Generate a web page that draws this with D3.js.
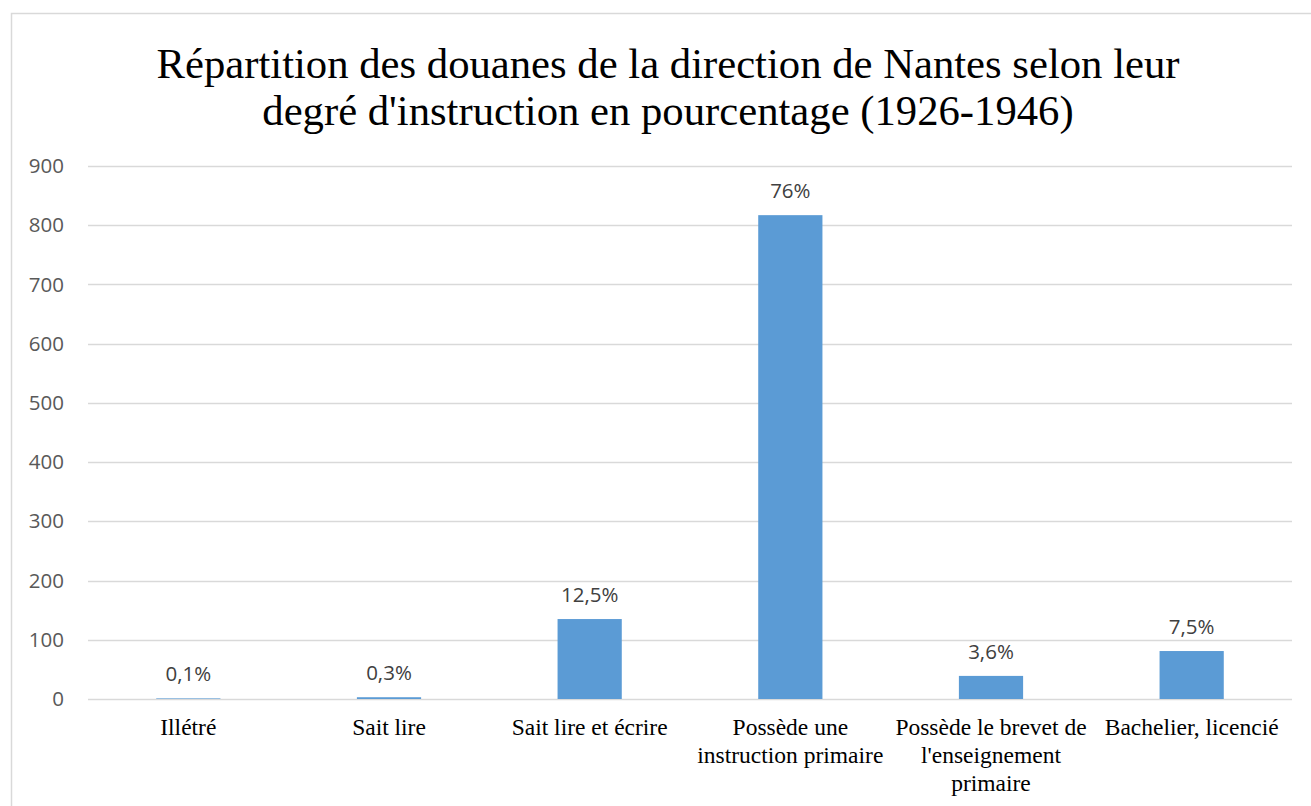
<!DOCTYPE html>
<html>
<head>
<meta charset="utf-8">
<script src="https://cdn.jsdelivr.net/npm/d3@7"></script>
<style>
  body { margin: 0; background: #fff; }
  svg { display: block; }
</style>
</head>
<body>
<script>
'use strict';

var width = 1311,
    height = 806;

// chart data
var categories = [
  ["Illétré"],
  ["Sait lire"],
  ["Sait lire et écrire"],
  ["Possède une", "instruction primaire"],
  ["Possède le brevet de", "l'enseignement", "primaire"],
  ["Bachelier, licencié"]
];
var values = [1, 3, 135, 817, 39, 81];
var pctLabels = ["0,1%", "0,3%", "12,5%", "76%", "3,6%", "7,5%"];
var yTicks = [0, 100, 200, 300, 400, 500, 600, 700, 800, 900];
var titleLines = [
  "Répartition des douanes de la direction de Nantes selon leur",
  "degré d'instruction en pourcentage (1926-1946)"
];

var margin = {left: 88, right: 19, top: 166, bottom: 107};

var svg = d3.select("body").append("svg")
  .attr("width", width)
  .attr("height", height);

// chart frame (goes off the right and bottom edges)
svg.append("rect")
  .attr("x", 11.5)
  .attr("y", 13.5)
  .attr("width", width + 20)
  .attr("height", height + 20)
  .attr("fill", "#fff")
  .attr("stroke", "#d9d9d9")
  .attr("stroke-width", 1.5);

var x = d3.scaleBand()
  .domain(d3.range(categories.length))
  .range([margin.left, width - margin.right])
  .paddingInner(0.68)
  .paddingOuter(0.34);

var y = d3.scaleLinear()
  .domain([0, 900])
  .range([height - margin.bottom, margin.top]);

// gridlines
svg.append("g")
  .selectAll("line")
  .data(yTicks)
  .enter().append("line")
  .attr("x1", margin.left)
  .attr("x2", width - margin.right)
  .attr("y1", function(d) { return Math.round(y(d)) + 0.5; })
  .attr("y2", function(d) { return Math.round(y(d)) + 0.5; })
  .attr("stroke", "#d9d9d9")
  .attr("stroke-width", 1.3);

// y axis labels
var yAxis = d3.axisLeft(y)
  .tickValues(yTicks)
  .tickSize(0)
  .tickPadding(24);

svg.append("g")
  .attr("transform", "translate(" + margin.left + ",0)")
  .call(yAxis)
  .call(function(g) { g.select(".domain").remove(); })
  .selectAll("text")
  .attr("font-family", "'Open Sans', sans-serif")
  .attr("font-size", 20.5)
  .attr("fill", "#595959");

// bars
svg.append("g")
  .selectAll("rect")
  .data(values)
  .enter().append("rect")
  .attr("x", function(d, i) { return x(i); })
  .attr("y", function(d) { return y(d); })
  .attr("width", x.bandwidth())
  .attr("height", function(d) { return y(0) - y(d); })
  .attr("fill", "#5b9bd5");

// data labels
svg.append("g")
  .selectAll("text")
  .data(values)
  .enter().append("text")
  .attr("x", function(d, i) { return x(i) + x.bandwidth() / 2; })
  .attr("y", function(d) { return y(d) - 17; })
  .attr("text-anchor", "middle")
  .attr("font-family", "'Open Sans', sans-serif")
  .attr("font-size", 20.5)
  .attr("fill", "#404040")
  .text(function(d, i) { return pctLabels[i]; });

// category labels
var catG = svg.append("g")
  .selectAll("text")
  .data(categories)
  .enter().append("text")
  .attr("text-anchor", "middle")
  .attr("font-family", "'Liberation Serif', 'Times New Roman', serif")
  .attr("font-size", 23.5)
  .attr("fill", "#000");

catG.selectAll("tspan")
  .data(function(d, i) { return d.map(function(s) { return {s: s, i: i}; }); })
  .enter().append("tspan")
  .attr("x", function(d) { return x(d.i) + x.bandwidth() / 2; })
  .attr("y", function(d, j) { return y(0) + 36 + j * 28; })
  .text(function(d) { return d.s; });

// title
svg.append("text")
  .attr("text-anchor", "middle")
  .attr("font-family", "'Liberation Serif', 'Times New Roman', serif")
  .attr("font-size", 42.7)
  .attr("fill", "#000")
  .selectAll("tspan")
  .data(titleLines)
  .enter().append("tspan")
  .attr("x", 668)
  .attr("y", function(d, i) { return 78 + i * 47; })
  .text(function(d) { return d; });
</script>
</body>
</html>
